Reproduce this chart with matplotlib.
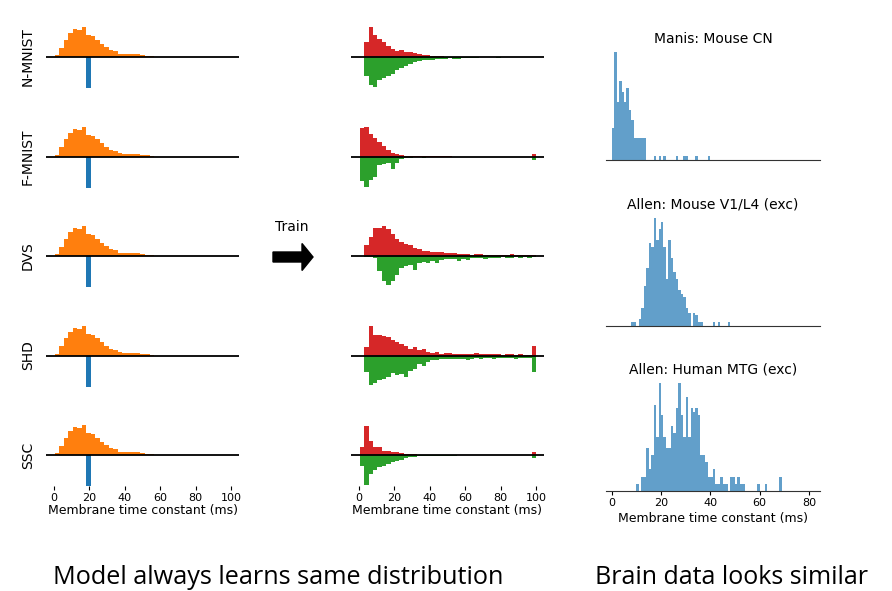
import numpy as np
import matplotlib
matplotlib.use("Agg")
import matplotlib.pyplot as plt
from matplotlib.patches import FancyArrow

datasets = ['N-MNIST', 'F-MNIST', 'DVS', 'SHD', 'SSC']

# bins (ms) for the trained histograms and for the initial histogram
bin_edges = np.linspace(0.5, 100, 41)
init_edges = np.linspace(0.5, 56.5, 23)

# initial distribution (same for every dataset)
init_hist = [1.7, 9.3, 17.3, 23.7, 27.7, 26.7, 29.7, 22.0, 20.7, 17.3, 13.3, 10.0,
             6.7, 5.7, 3.3, 3.0, 3.0, 3.0, 3.0, 1.7, 1.3, 0.7]
init_fixed_tau = 20  # the "fixed" initial value, shown downwards

# trained distributions: red (up) and green (down), 40 bins
trained_red = {
    'N-MNIST': [0, 15, 30, 22, 18, 15, 11, 8, 6, 7, 5, 5, 4, 3, 2, 2, 1, 1, 1, 0.5,
                0.5, 0.5, 0.3, 0.3, 0, 0, 0, 0, 0, 0, 0, 0, 0, 0, 0, 0.5, 0, 0, 0, 0],
    'F-MNIST': [29, 30, 23, 19, 15, 11, 7, 4, 3, 2, 1, 1, 1, 0.5, 0.5, 0.5, 0.5, 0.5, 0.5, 0.5,
                0.5, 0, 0, 0, 0, 0, 0, 0, 0, 0, 0, 0, 0, 0, 0, 0, 0, 0, 0, 3],
    'DVS': [0, 11, 19, 28, 28, 30, 27, 22, 17, 14, 12, 11, 8, 7, 5, 5, 4, 4, 4, 3,
            3, 3, 2, 2, 2, 1, 2, 2, 1, 1, 1, 1, 1, 1, 1.5, 1, 1, 0.5, 0.5, 0.5],
    'SHD': [0, 9, 30, 21, 21, 20, 19, 16, 14, 12, 10, 7, 9, 6, 7, 4, 3, 4, 2, 3,
            3, 2, 2, 2, 2, 2, 3, 2, 2, 2, 1.5, 1.5, 1, 1.5, 2, 1, 1.5, 1, 1, 10],
    'SSC': [8, 29, 14, 8, 8, 4, 4, 3, 3, 2, 1, 1, 0.7, 0.5, 0.5, 0.3, 0.3, 0.3, 0.3, 0.3,
            0.3, 0, 0, 0, 0, 0, 0, 0, 0, 0, 0, 0, 0, 0, 0, 0, 0, 0, 0, 3],
}
trained_green = {
    'N-MNIST': [0, 19, 28, 30, 23, 21, 19, 17, 13, 11, 9, 7, 5, 4, 3, 3, 3, 2, 2, 2,
                1, 2, 2, 1, 0.5, 0.5, 0.5, 0.3, 0.3, 0.3, 0.3, 1, 0.3, 0, 0, 0, 0, 0, 0, 0],
    'F-MNIST': [24, 30, 23, 20, 8, 7, 6, 12, 6, 2, 1, 1, 0.5, 0.5, 1, 0.3, 0, 0, 0, 0,
                0, 0, 0, 0, 0, 0, 0, 0, 0, 0, 0, 0, 0, 0, 0, 0, 0, 0, 0, 3],
    'DVS': [0, 1, 1, 2, 15, 25, 29, 25, 19, 12, 10, 9, 14, 7, 6, 7, 5, 7, 4, 3,
            3, 3, 5, 3, 4, 2, 2, 2, 3, 2, 2, 2, 1, 2, 2, 1, 2, 1, 2, 1],
    'SHD': [0, 16, 29, 27, 24, 23, 21, 17, 19, 18, 21, 15, 13, 8, 10, 6, 4, 4, 3, 3,
            3, 3, 3, 3, 4, 3, 2, 3, 2, 2, 3, 2, 2, 2, 2, 3, 2, 2, 2, 16],
    'SSC': [11, 30, 19, 15, 12, 11, 9, 7, 6, 5, 3, 2, 2, 1, 1, 1, 1, 0.7, 0.5, 0.5,
            0.5, 0.5, 0, 0, 0, 0, 0, 0, 0, 0, 0, 0, 0, 0, 0, 0, 0, 0, 0, 3],
}

# brain data: counts per 1 ms bin starting at 0 ms
brain_titles = ['Manis: Mouse CN', 'Allen: Mouse V1/L4 (exc)', 'Allen: Human MTG (exc)']
manis_counts = {0: 9, 1: 30, 2: 16, 3: 22, 4: 19, 5: 16, 6: 20, 7: 14, 8: 11, 9: 6, 10: 6,
                11: 6, 12: 6, 13: 6, 17: 1, 19: 1, 21: 1, 26: 1, 29: 1, 30: 1, 34: 1, 39: 1}
v1_counts = {8: 1, 9: 1, 11: 2, 12: 5, 13: 11, 14: 16, 15: 23, 16: 22, 17: 30, 18: 24, 19: 27,
             20: 29, 21: 22, 22: 13, 23: 24, 24: 19, 25: 15, 26: 13, 27: 10, 28: 9, 29: 8,
             30: 5, 31: 3.5, 33: 3.5, 34: 3, 35: 1, 36: 1, 41: 1, 43: 1, 47: 1}
mtg_counts = {10: 1, 12: 2, 13: 2, 14: 6, 15: 3, 16: 5, 17: 12, 18: 7.5, 19: 15, 20: 10.5,
              21: 7.5, 22: 6, 23: 6, 24: 9, 25: 8, 26: 11.5, 27: 15, 28: 10.5, 29: 7.5,
              30: 13, 31: 7.5, 32: 11.5, 33: 11, 34: 11.5, 35: 10.5, 36: 5, 37: 5, 38: 4,
              39: 2, 40: 2, 41: 3, 42: 1, 43: 1, 44: 2, 45: 1, 46: 1, 48: 2, 49: 2, 50: 1,
              51: 2, 52: 1, 53: 1, 59: 1, 62: 1, 68: 2}
brain_counts = [manis_counts, v1_counts, mtg_counts]
brain_edges = np.arange(0, 71, 1.0)

W, H = 892, 591
fig = plt.figure(figsize=(W / 100, H / 100), dpi=100)


def px_axes(left, top, width, height):
    return fig.add_axes([left / W, 1 - (top + height) / H, width / W, height / H])


row_base = [57, 156.5, 256, 355.5, 455]
half = 31
lim = 31

for i, name in enumerate(datasets):
    last = i == len(datasets) - 1
    # left: initial distribution
    ax = px_axes(46, row_base[i] - half, 193, 2 * half)
    ax.stairs(init_hist, init_edges, fill=True, color='C1')
    k = np.searchsorted(init_edges, init_fixed_tau) - 1
    ax.stairs([-10 * lim], init_edges[k:k + 2], fill=True, color='C0')
    # middle: trained
    ax2 = px_axes(351, row_base[i] - half, 193, 2 * half)
    ax2.stairs(trained_red[name], bin_edges, fill=True, color='C3')
    ax2.stairs(-np.array(trained_green[name]), bin_edges, fill=True, color='C2')
    for a in (ax, ax2):
        a.axhline(0, color='black', lw=1.3)
        a.set_xlim(-4.5, 104.5)
        a.set_ylim(-lim, lim)
        a.set_yticks([])
        for s in a.spines.values():
            s.set_visible(False)
        if last:
            a.set_xticks([0, 20, 40, 60, 80, 100])
            a.tick_params(axis='x', labelsize=8, length=3, width=0.8, pad=2)
            a.set_xlabel('Membrane time constant (ms)', fontsize=9, labelpad=1)
        else:
            a.set_xticks([])
    ax.set_ylabel(name, fontsize=10, labelpad=8)

# right: brain data
r_top = [51, 217, 382]
for j, title in enumerate(brain_titles):
    counts = [brain_counts[j].get(b, 0) for b in range(len(brain_edges) - 1)]
    ax = px_axes(606, r_top[j], 214, 109)
    ax.stairs(counts, brain_edges, fill=True, color='C0', alpha=0.7)
    ax.set_xlim(-2.3, 84.5)
    ax.set_ylim(0, max(counts) * 1.01)
    ax.set_yticks([])
    for s in ['left', 'right', 'top']:
        ax.spines[s].set_visible(False)
    ax.spines['bottom'].set_color('#333333')
    ax.set_title(title, fontsize=10, pad=6)
    if j == len(brain_titles) - 1:
        ax.set_xticks([0, 20, 40, 60, 80])
        ax.tick_params(axis='x', labelsize=8, length=3, width=0.8, pad=2)
        ax.set_xlabel('Membrane time constant (ms)', fontsize=9, labelpad=3)
    else:
        ax.set_xticks([])

# "Train" arrow between the columns
fig.text(292 / W, 1 - 227 / H, 'Train', fontsize=10, ha='center', va='center')
fig.add_artist(FancyArrow(273 / W, 1 - 257 / H, 40 / W, 0, width=10 / H,
                          head_width=27 / H, head_length=11 / W,
                          length_includes_head=True, color='black',
                          transform=fig.transFigure))

fig.text(53 / W, 1 - 584 / H, 'Model always learns same distribution', fontsize=18.2,
         family='Open Sans', va='baseline', ha='left')
fig.text(595 / W, 1 - 584 / H, 'Brain data looks similar', fontsize=18,
         family='Open Sans', va='baseline', ha='left')

fig.savefig('out.png', dpi=100)
